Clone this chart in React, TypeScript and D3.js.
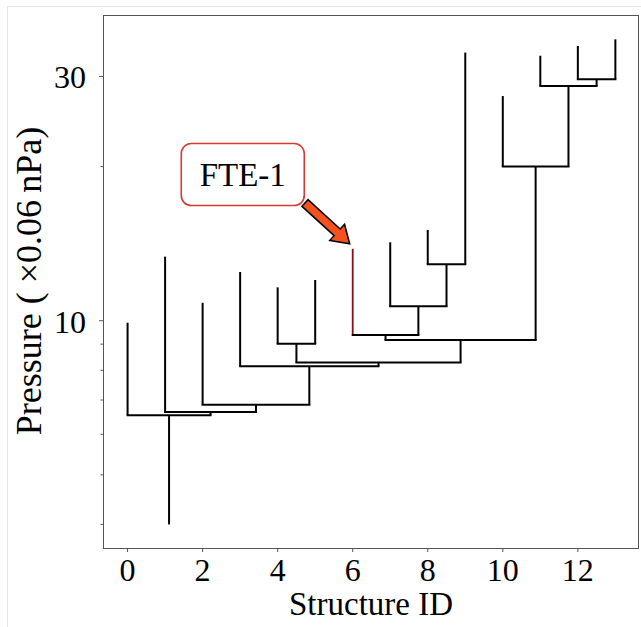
import React from "react";
import * as d3 from "d3";

// ---- data ----
const leafIds = [0, 1, 2, 3, 4, 5, 6, 7, 8, 9, 10, 11, 12, 13];
const leafHeights = [9.91, 13.34, 10.84, 12.45, 11.62, 12.01, 13.82, 14.23, 15.04, 33.4, 27.47, 32.93, 34.4, 35.45];
// linkage (node ids start at 14)
const mergeLeft = [12, 11, 10, 8, 7, 6, 19, 4, 21, 3, 2, 1, 0];
const mergeRight = [13, 14, 15, 9, 17, 18, 16, 5, 20, 22, 23, 24, 25];
const mergeHeight = [29.62, 28.74, 20.0, 12.89, 10.67, 9.38, 9.17, 9.02, 8.29, 8.15, 6.85, 6.63, 6.54];
const rootBase = 4.0;
const highlightLeaf = 6;
const annotationText = "FTE-1";
const xTicks = [0, 2, 4, 6, 8, 10, 12];
const yMajorTicks = [10, 30];
const yMinorTicks = [4, 5, 6, 7, 8, 9, 20];
const xLabel = "Structure ID";
const yLabel = "Pressure ( \u00d70.06\u2009nPa)";

const W = 641;
const H = 627;
const FONT = "'Liberation Serif', 'Times New Roman', serif";

export default function App() {
  const left = 103, right = 639, top = 15, bottom = 548;
  const x = d3.scaleLinear().domain([-0.655, 13.63]).range([left, right]);
  const y = d3.scaleLog().domain([3.598, 39.55]).range([bottom, top]);

  // compute node positions
  const n = leafIds.length;
  const nodeX: number[] = leafIds.slice();
  const nodeH: number[] = leafHeights.slice();
  mergeLeft.forEach((l, i) => {
    const r = mergeRight[i];
    nodeX[n + i] = (nodeX[l] + nodeX[r]) / 2;
    nodeH[n + i] = mergeHeight[i];
  });

  const segs: { x1: number; y1: number; x2: number; y2: number; color: string; w: number }[] = [];
  mergeLeft.forEach((l, i) => {
    const r = mergeRight[i];
    const h = mergeHeight[i];
    [l, r].forEach((c) => {
      const isHi = c === highlightLeaf;
      segs.push({ x1: x(nodeX[c]), y1: y(nodeH[c]), x2: x(nodeX[c]), y2: y(h), color: isHi ? "#8a0f14" : "#000", w: isHi ? 1.8 : 2 });
    });
    segs.push({ x1: x(nodeX[l]) - 1, y1: y(h), x2: x(nodeX[r]) + 1, y2: y(h), color: "#000", w: 2 });
  });
  const rootId = n + mergeLeft.length - 1;
  segs.push({ x1: x(nodeX[rootId]), y1: y(nodeH[rootId]), x2: x(nodeX[rootId]), y2: y(rootBase), color: "#000", w: 2 });

  // annotation
  const tipX = x(highlightLeaf) - 3;
  const tipY = y(leafHeights[highlightLeaf]) - 5;
  const boxCx = x(3.07), boxCy = y(19.3);
  const boxW = 123, boxH = 62;
  const sx = 305, sy = 203;
  const dx = tipX - sx, dy = tipY - sy;
  const len = Math.hypot(dx, dy);
  const ux = dx / len, uy = dy / len;
  const nx = -uy, ny = ux;
  const headLen = 17, headW = 11, shaftW = 4.5;
  const bx = tipX - ux * headLen, by = tipY - uy * headLen;
  const arrowPts = [
    [sx + nx * shaftW, sy + ny * shaftW],
    [bx + nx * shaftW, by + ny * shaftW],
    [bx + nx * headW, by + ny * headW],
    [tipX, tipY],
    [bx - nx * headW, by - ny * headW],
    [bx - nx * shaftW, by - ny * shaftW],
    [sx - nx * shaftW, sy - ny * shaftW],
  ];

  return (
    <svg width={W} height={H} style={{ position: "absolute", left: 0, top: 0, background: "#fff" }}>
      <rect x={0} y={0} width={W} height={H} fill="#fff" />
      <line x1={7.5} y1={6} x2={7.5} y2={H} stroke="#e6e6e6" strokeWidth={1} />
      <line x1={7} y1={6.5} x2={W} y2={6.5} stroke="#e6e6e6" strokeWidth={1} />

      {segs.map((s, i) => (
        <line key={i} x1={s.x1} y1={s.y1} x2={s.x2} y2={s.y2} stroke={s.color} strokeWidth={s.w} />
      ))}

      {/* frame */}
      <rect x={left + 0.5} y={top + 0.5} width={right - left - 1} height={bottom - top} fill="none" stroke="#555" strokeWidth={1} />

      {/* x ticks */}
      {xTicks.map((t) => (
        <g key={t}>
          <line x1={x(t)} x2={x(t)} y1={bottom} y2={bottom + 4} stroke="#555" strokeWidth={1} />
          <text x={x(t)} y={bottom + 33} textAnchor="middle" fontFamily={FONT} fontSize={32} fill="#000">{t}</text>
        </g>
      ))}
      {/* y ticks */}
      {yMajorTicks.map((t) => (
        <g key={t}>
          <line x1={left - 4} x2={left} y1={y(t)} y2={y(t)} stroke="#555" strokeWidth={1} />
          <text x={86} y={y(t) + 12} textAnchor="end" fontFamily={FONT} fontSize={32} fill="#000">{t}</text>
        </g>
      ))}
      {yMinorTicks.map((t) => (
        <line key={t} x1={left - 2.5} x2={left} y1={y(t)} y2={y(t)} stroke="#555" strokeWidth={1} />
      ))}

      <text x={(left + right) / 2} y={615} textAnchor="middle" fontFamily={FONT} fontSize={33} fill="#000">{xLabel}</text>
      <text transform={`translate(41, 281) rotate(-90)`} textAnchor="middle" fontFamily={FONT} fontSize={36} fill="#000">{yLabel}</text>

      {/* annotation */}
      <rect x={boxCx - boxW / 2} y={boxCy - boxH / 2} width={boxW} height={boxH} rx={10} ry={10} fill="#fff" stroke="#d63a33" strokeWidth={1.6} />
      <text x={boxCx} y={boxCy + 11} textAnchor="middle" fontFamily={FONT} fontSize={33} fill="#000">{annotationText}</text>
      <polygon points={arrowPts.map((p) => p.join(",")).join(" ")} fill="#f4511e" stroke="#000" strokeWidth={1.5} strokeLinejoin="miter" />
    </svg>
  );
}
